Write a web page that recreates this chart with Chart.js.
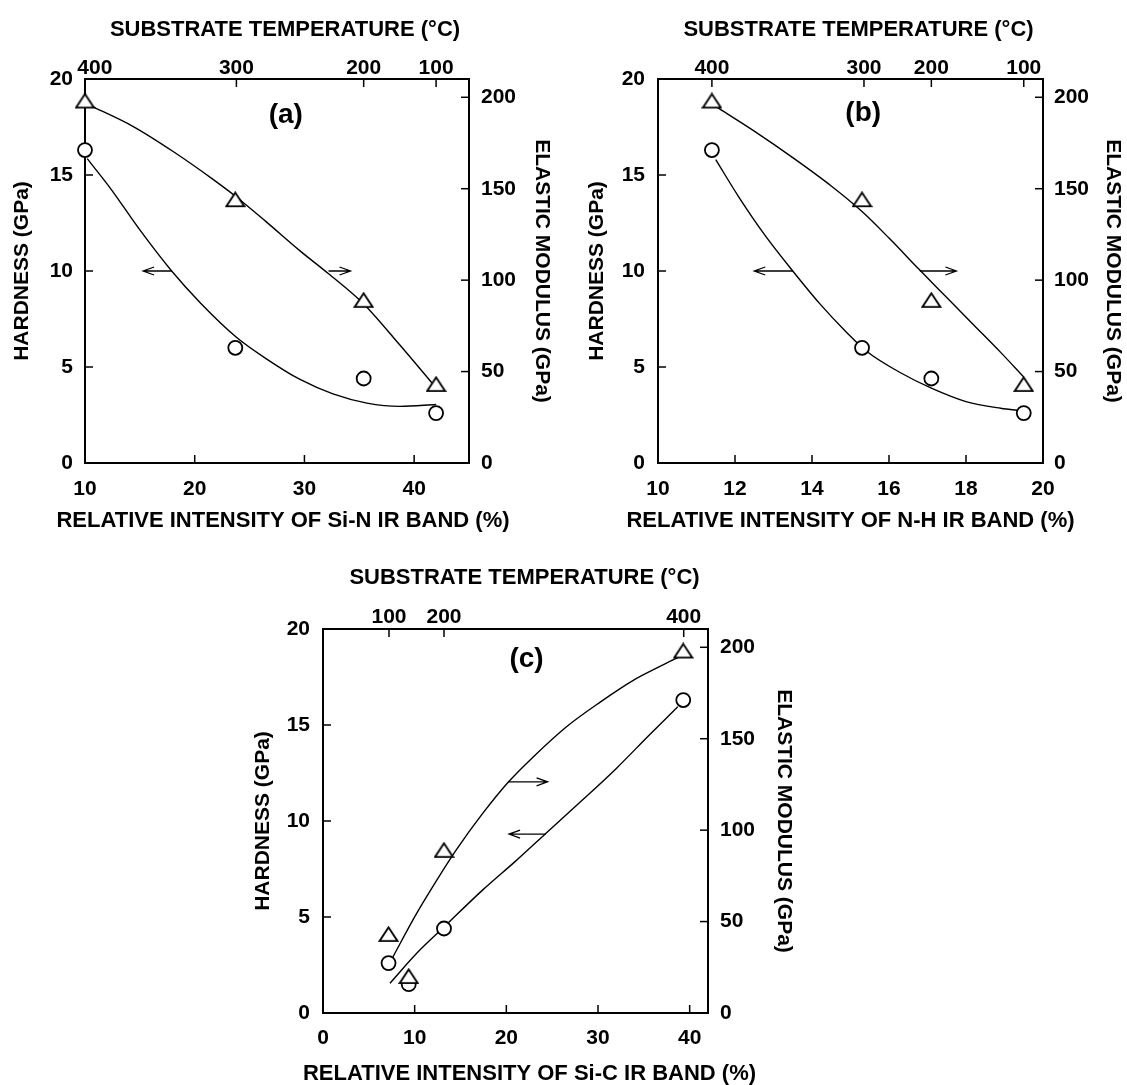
<!DOCTYPE html>
<html>
<head>
<meta charset="utf-8">
<script src="https://cdn.jsdelivr.net/npm/chart.js@4.4.1/dist/chart.umd.min.js"></script>
<style>
  body { margin: 0; background: #fff; }
  #wrap { position: relative; width: 1127px; height: 1085px; }
  canvas { position: absolute; }
</style>
</head>
<body>
<div id="wrap">
  <canvas id="chartA" width="563" height="545" style="left:0px;top:0px"></canvas>
  <canvas id="chartB" width="552" height="545" style="left:575px;top:0px"></canvas>
  <canvas id="chartC" width="560" height="535" style="left:240px;top:550px"></canvas>
</div>
<script>
// measured points (same four films in a and b)
const hardness = [16.3, 6.0, 4.4, 2.6];
const modulus = [198, 144, 89, 43];
const tempLabels = ['400', '300', '200', '100'];
const siN = [10.0, 23.7, 35.4, 42.0];
const nH = [11.4, 15.3, 17.1, 19.5];

// panel c
const siC = [7.15, 9.35, 13.2, 39.3];
const hardnessC = [2.6, 1.5, 4.4, 16.3];
const modulusC = [43, 20, 89, 198];
const tempTicksC = [7.2, 13.2, 39.35];
const tempLabelsC = ['100', '200', '400'];

// axis ticks
const xTicksA = [10, 20, 30, 40];
const xTicksB = [10, 12, 14, 16, 18, 20];
const xTicksC = [0, 10, 20, 30, 40];
const hardTicks = [0, 5, 10, 15, 20];
const modTicks = [0, 50, 100, 150, 200];
const tempTicksA = [10, 23.8, 35.4, 42.0];
const tempTicksB = [11.4, 15.35, 17.1, 19.5];

// fitted curves [x, y]
const fitHardA = [[10.2,15.85],[12.3,14.32],[15.0,12.14],[17.9,10.0],[20.5,8.35],[23.8,6.55],[26.6,5.4],[29.6,4.35],[32.6,3.6],[35.7,3.12],[38.7,2.95],[42.0,3.05]];
const fitModA = [[10.3,196],[14.4,184],[18.0,170.5],[21.7,155],[23.8,145.5],[26.5,132],[29.6,116],[32.2,103.5],[35.4,87],[38.7,64.5],[41.8,42.5]];
const fitHardB = [[11.5,15.8],[12.1,13.85],[12.8,11.8],[13.5,10.0],[14.2,8.3],[14.9,6.8],[15.4,5.85],[16.3,4.7],[17.1,3.9],[18.0,3.2],[18.9,2.85],[19.45,2.72]];
const fitModB = [[11.5,195],[12.5,181.5],[13.5,167],[14.5,151.5],[15.3,137.5],[16.0,123],[16.8,105.5],[17.5,90.5],[18.2,75.5],[18.9,60.5],[19.5,47]];
const fitHardC = [[7.3,1.55],[10.2,3.1],[13.2,4.48],[17.4,6.4],[21.1,7.95],[24.3,9.35],[28.3,11.09],[32.0,12.74],[35.6,14.48],[38.7,15.95]];
const fitModC = [[7.5,29.5],[10.2,54.3],[12.4,72.5],[14.5,88.9],[17.4,109],[20.2,126.2],[22.9,139.9],[26.5,156.3],[30.2,169.9],[33.8,181.8],[36.7,189.4],[38.9,194.9]];

// arrows [fromX, fromY, toX, toY] in hardness units
const arrowsA = [[17.9,10,15.3,10],[32.2,10,34.2,10]];
const arrowsB = [[13.5,10,12.5,10],[16.8,10,17.75,10]];
const arrowsC = [[20.2,12.04,24.5,12.04],[24.3,9.32,20.3,9.32]];

const FONT = '"Liberation Sans", Arial, Helvetica, sans-serif';
const TOP_TITLE = 'SUBSTRATE TEMPERATURE (°C)';

function pts(xs, ys) { return xs.map((x, i) => ({x: x, y: ys[i]})); }
function pairs(arr) { return arr.map(p => ({x: p[0], y: p[1]})); }

function triangleMarker() {
  const c = document.createElement('canvas');
  c.width = 21; c.height = 17;
  const g = c.getContext('2d');
  g.beginPath();
  g.moveTo(10.5, 1.4); g.lineTo(19.5, 15.2); g.lineTo(1.5, 15.2); g.closePath();
  g.fillStyle = '#fff'; g.fill();
  g.lineWidth = 1.8; g.strokeStyle = '#000'; g.stroke();
  return c;
}
const tri = triangleMarker();

// inward tick marks on all four sides; top marks sit at the temperature positions
function makeTickMarks(topMarks) {
  return {
    id: 'tickMarks',
    afterDraw(chart) {
      const ctx = chart.ctx, a = chart.chartArea;
      ctx.save();
      ctx.strokeStyle = '#000';
      ctx.lineWidth = 1.5;
      Object.values(chart.scales).forEach(s => {
        const vals = s.position === 'top' ? topMarks : s.ticks.map(t => t.value);
        vals.forEach(v => {
          const p = s.getPixelForValue(v);
          ctx.beginPath();
          if (s.position === 'left') { ctx.moveTo(a.left, p); ctx.lineTo(a.left + 8, p); }
          if (s.position === 'right') { ctx.moveTo(a.right, p); ctx.lineTo(a.right - 8, p); }
          if (s.position === 'top') { ctx.moveTo(p, a.top); ctx.lineTo(p, a.top + 8); }
          if (s.position === 'bottom') { ctx.moveTo(p, a.bottom); ctx.lineTo(p, a.bottom - 8); }
          ctx.stroke();
        });
      });
      ctx.restore();
    }
  };
}

// panel letter, arrows and the horizontal axis titles
function makeDecor(p) {
  return {
    id: 'decor',
    afterDraw(chart) {
      const ctx = chart.ctx, a = chart.chartArea, sx = chart.scales.x, sy = chart.scales.y;
      const mid = (a.left + a.right) / 2;
      ctx.save();
      ctx.fillStyle = '#000';
      ctx.textAlign = 'center';
      ctx.textBaseline = 'middle';
      ctx.font = 'bold 28px ' + FONT;
      ctx.fillText(p.label, sx.getPixelForValue(p.labelX), sy.getPixelForValue(p.labelY));
      ctx.font = 'bold 22px ' + FONT;
      ctx.fillText(TOP_TITLE, mid + p.topDx, a.top - p.topDy);
      ctx.fillText(p.xTitle, mid + p.botDx, a.bottom + p.botDy);
      ctx.strokeStyle = '#000';
      ctx.lineWidth = 1.3;
      p.arrows.forEach(ar => {
        const x0 = sx.getPixelForValue(ar[0]), y0 = sy.getPixelForValue(ar[1]);
        const x1 = sx.getPixelForValue(ar[2]), y1 = sy.getPixelForValue(ar[3]);
        const d = x1 > x0 ? -1 : 1;
        ctx.beginPath();
        ctx.moveTo(x0, y0); ctx.lineTo(x1, y1);
        ctx.moveTo(x1 + d * 11, y1 - 4); ctx.lineTo(x1, y1); ctx.lineTo(x1 + d * 11, y1 + 4);
        ctx.stroke();
      });
      ctx.restore();
    }
  };
}

function fixedTicks(list) {
  return s => { s.ticks = list.map(v => ({value: v})); };
}

function buildChart(id, p) {
  const tickFont = {family: FONT, size: 21, weight: 'bold', lineHeight: 1};
  const vTitle = {family: FONT, size: 21, weight: 'bold', lineHeight: 1.2};
  const common = {grid: {display: false, drawTicks: false}, border: {display: true, color: '#000', width: 2}};
  return new Chart(document.getElementById(id), {
    type: 'scatter',
    data: {
      datasets: [
        {data: pairs(p.hardFit), yAxisID: 'y', showLine: true, pointRadius: 0, borderColor: '#000', borderWidth: 1.4, cubicInterpolationMode: 'monotone', order: 3},
        {data: pairs(p.modFit), yAxisID: 'y2', showLine: true, pointRadius: 0, borderColor: '#000', borderWidth: 1.4, cubicInterpolationMode: 'monotone', order: 3},
        {data: pts(p.xs, p.hard), yAxisID: 'y', pointStyle: 'circle', pointRadius: 7, pointBorderWidth: 1.8, pointBorderColor: '#000', pointBackgroundColor: '#fff', clip: false, order: 2},
        {data: pts(p.xs, p.mod), yAxisID: 'y2', pointStyle: tri, pointRadius: 10, clip: false, order: 1}
      ]
    },
    options: {
      responsive: false,
      animation: false,
      devicePixelRatio: 1,
      layout: {padding: 0},
      plugins: {legend: {display: false}, tooltip: {enabled: false}},
      scales: {
        x: Object.assign({}, common, {
          type: 'linear', position: 'bottom', min: p.xmin, max: p.xmax,
          afterBuildTicks: fixedTicks(p.xTicks),
          ticks: {font: tickFont, color: '#000', padding: p.padBottom, autoSkip: false, maxRotation: 0},
          afterFit: s => { s.height = p.bottomH; }
        }),
        xTop: Object.assign({}, common, {
          type: 'linear', position: 'top', min: p.xmin, max: p.xmax,
          afterBuildTicks: fixedTicks(p.topLabelAt),
          ticks: {font: tickFont, color: '#000', padding: p.padTop, autoSkip: false, maxRotation: 0,
            callback: (v, i) => p.topLabels[i]},
          afterFit: s => { s.height = p.topH; }
        }),
        y: Object.assign({}, common, {
          type: 'linear', position: 'left', min: 0, max: 20,
          afterBuildTicks: fixedTicks(hardTicks),
          ticks: {font: tickFont, color: '#000', padding: p.padLeft},
          title: {display: true, text: 'HARDNESS (GPa)', color: '#000', font: vTitle, padding: {top: p.titleLeft}},
          afterFit: s => { s.width = p.leftW; }
        }),
        y2: Object.assign({}, common, {
          type: 'linear', position: 'right', min: 0, max: 210,
          afterBuildTicks: fixedTicks(modTicks),
          ticks: {font: tickFont, color: '#000', padding: p.padRight},
          title: {display: true, text: 'ELASTIC MODULUS (GPa)', color: '#000', font: vTitle, padding: {top: p.titleRight}},
          afterFit: s => { s.width = p.rightW; }
        })
      }
    },
    plugins: [makeTickMarks(p.topTicks), makeDecor(p)]
  });
}

buildChart('chartA', {
  xs: siN, hard: hardness, mod: modulus, hardFit: fitHardA, modFit: fitModA,
  xmin: 10, xmax: 45, xTicks: xTicksA, topTicks: tempTicksA, topLabels: tempLabels,
  topLabelAt: [10.9, 23.8, 35.4, 42.0],
  xTitle: 'RELATIVE INTENSITY OF Si-N IR BAND (%)',
  leftW: 85, rightW: 94, topH: 79, bottomH: 82,
  padLeft: 12, padRight: 12, padTop: 0.5, padBottom: 15.5,
  titleLeft: 9.4, titleRight: 8.7,
  topDx: 8, topDy: 49, botDx: 6, botDy: 58,
  label: '(a)', labelX: 28.3, labelY: 18.1, arrows: arrowsA
});

buildChart('chartB', {
  xs: nH, hard: hardness, mod: modulus, hardFit: fitHardB, modFit: fitModB,
  xmin: 10, xmax: 20, xTicks: xTicksB, topTicks: tempTicksB, topLabels: tempLabels,
  topLabelAt: tempTicksB,
  xTitle: 'RELATIVE INTENSITY OF N-H IR BAND (%)',
  leftW: 83, rightW: 84, topH: 79, bottomH: 82,
  padLeft: 13, padRight: 11, padTop: 0.5, padBottom: 15.5,
  titleLeft: 9.4, titleRight: 1.4,
  topDx: 8, topDy: 49, botDx: 0, botDy: 58,
  label: '(b)', labelX: 15.33, labelY: 18.2, arrows: arrowsB
});

buildChart('chartC', {
  xs: siC, hard: hardnessC, mod: modulusC, hardFit: fitHardC, modFit: fitModC,
  xmin: 0, xmax: 42, xTicks: xTicksC, topTicks: tempTicksC, topLabels: tempLabelsC,
  topLabelAt: tempTicksC,
  xTitle: 'RELATIVE INTENSITY OF Si-C IR BAND (%)',
  leftW: 83, rightW: 92, topH: 79, bottomH: 72,
  padLeft: 13, padRight: 12, padTop: 1.5, padBottom: 14.5,
  titleLeft: 10.4, titleRight: 3.4,
  topDx: 9, topDy: 51, botDx: 14, botDy: 61,
  label: '(c)', labelX: 22.2, labelY: 18.4, arrows: arrowsC
});
</script>
</body>
</html>
